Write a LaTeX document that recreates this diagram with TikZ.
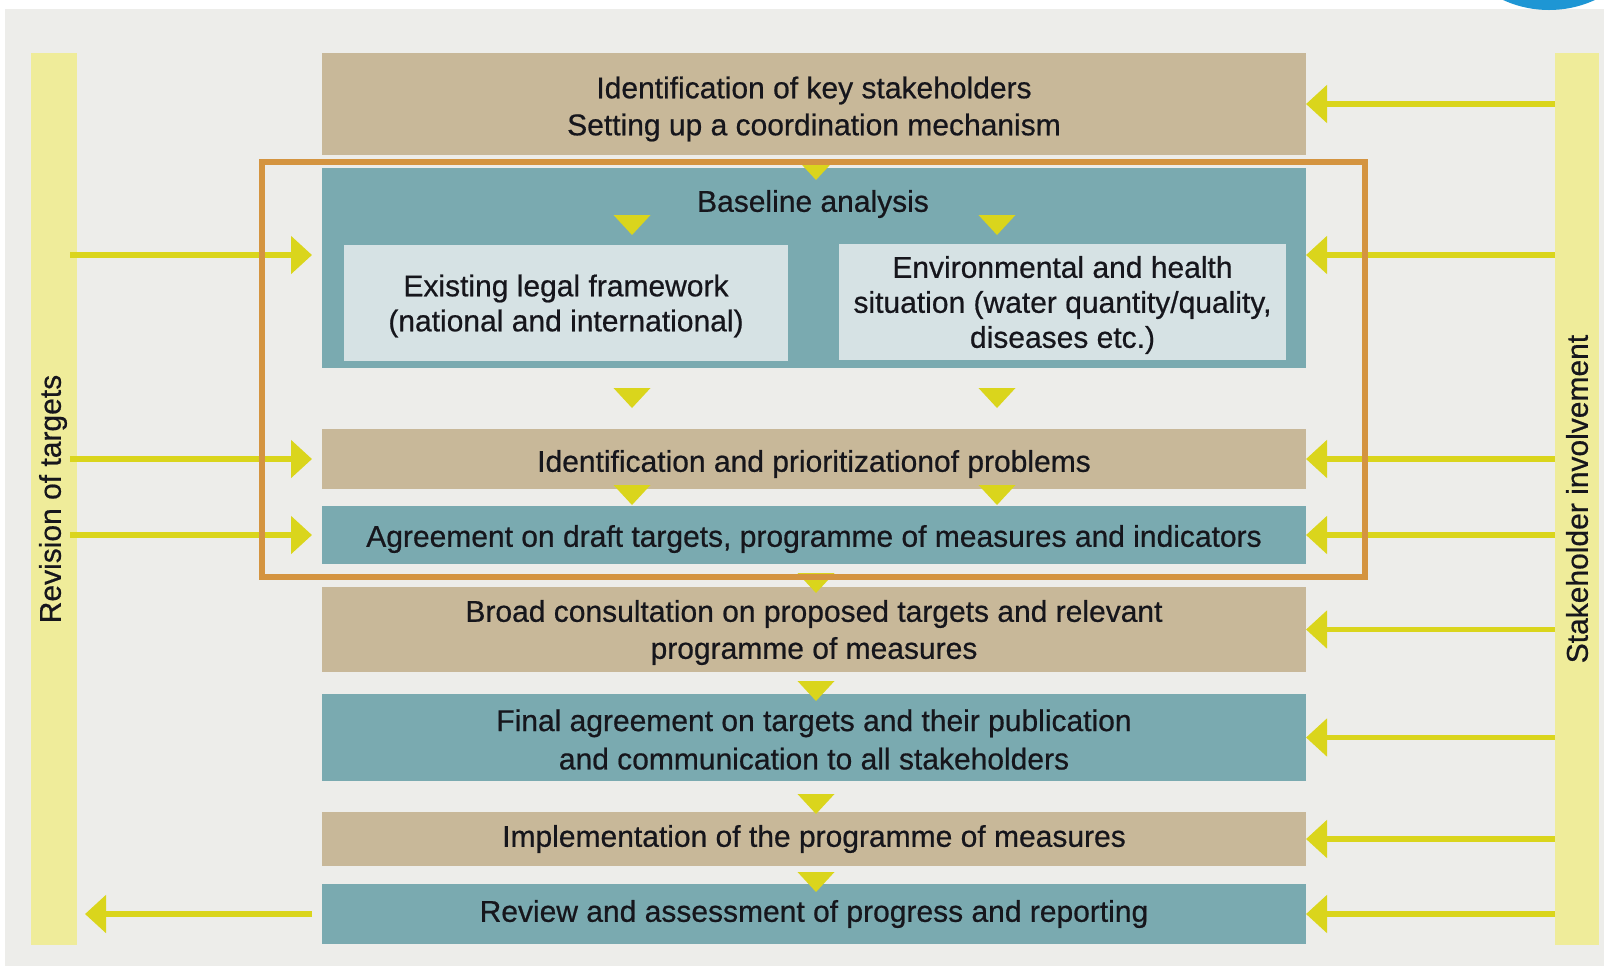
\documentclass[tikz,border=0pt]{standalone}
\usepackage{fontspec}
\setmainfont{Liberation Sans}
\newfontfamily\boxfont[FakeBold=0.6]{Liberation Sans}
\usetikzlibrary{arrows.meta,calc}
\definecolor{bgc}{HTML}{EDEDEA}
\definecolor{boxtan}{HTML}{C8B899}
\definecolor{boxteal}{HTML}{7AAAB0}
\definecolor{boxlight}{HTML}{D6E2E4}
\definecolor{baryellow}{HTML}{EFEC9A}
\definecolor{arrowyellow}{HTML}{DAD51C}
\definecolor{frameorange}{HTML}{D49440}
\definecolor{txt}{HTML}{16161C}
\definecolor{logoblue}{HTML}{1E96D4}
\newcommand\ytri[2]{\fill[tri] (#1-18.5,#2) -- (#1+18.5,#2) -- (#1,#2+20) -- cycle;}
\begin{document}
\begin{tikzpicture}[x=0.5pt,y=-0.5pt,
  box/.style={inner sep=0pt, outer sep=0pt, anchor=north west, minimum width=492pt},
  tanbox/.style={box, fill=boxtan},
  tealbox/.style={box, fill=boxteal},
  lightbox/.style={box, fill=boxlight},
  boxtext/.style={inner sep=0pt, align=center, text=txt, font=\boxfont\fontsize{15}{18.5}\selectfont},
  lighttext/.style={boxtext, font=\boxfont\fontsize{15}{17.5}\selectfont},
  bar/.style={inner sep=0pt, outer sep=0pt, anchor=north west, fill=baryellow,
    minimum width=23pt, minimum height=446pt},
  barlabel/.style={rotate=90, text=txt, font=\boxfont\fontsize{15}{18}\selectfont, inner sep=0pt},
  yarrow/.style={draw=arrowyellow, line width=2.8pt, -{Triangle[length=10.5pt,width=18.5pt]}},
  tri/.style={fill=arrowyellow},
  frame/.style={draw=frameorange, line width=2.6pt}]
\useasboundingbox (0,0) rectangle (1604,966);
\fill[white] (0,0) rectangle (1604,966);
\fill[bgc] (5,9) rectangle (1604,966);
\begin{scope}
  \clip (0,0) rectangle (1604,966);
  \fill[logoblue] (1549,-100) circle[radius=55pt];
\end{scope}

% side bars
\node[bar] (lbar) at (31,53) {};
\node[bar, minimum width=22pt] (rbar) at (1555,53) {};
\node[barlabel] (lbl) at ([xshift=-0.5pt]lbar.center) {Revision of targets};
\node[barlabel] (rbl) at (rbar.center) {Stakeholder involvement};

% boxes
\node[tanbox, minimum height=51pt] (box1) at (322,53) {};
\node[tealbox, minimum height=100pt] (base) at (322,168) {};
\node[lightbox, minimum width=222pt, minimum height=58pt] (legal) at (344,245) {};
\node[lightbox, minimum width=223.5pt, minimum height=58pt] (env) at (839,244) {};
\node[tanbox, minimum height=30pt] (prob) at (322,429) {};
\node[tealbox, minimum height=29pt] (agree) at (322,506) {};
\node[tanbox, minimum height=42.5pt] (broad) at (322,587) {};
\node[tealbox, minimum height=43.5pt] (final) at (322,694) {};
\node[tanbox, minimum height=27pt] (impl) at (322,812) {};
\node[tealbox, minimum height=30pt] (review) at (322,884) {};

% box texts
\node[boxtext] (box1t) at ([yshift=-2.5pt]box1.center)
  {Identification of key stakeholders\\Setting up a coordination mechanism};
\node[boxtext] (baset) at (813,204) {Baseline analysis};
\node[lighttext] (legalt) at ([yshift=-1.5pt]legal.center)
  {Existing legal framework\\(national and international)};
\node[lighttext] (envt) at ([yshift=-1.5pt]env.center)
  {Environmental and health\\situation (water quantity/quality,\\diseases etc.)};
\node[boxtext] (probt) at ([yshift=-2.5pt]prob.center)
  {Identification and prioritizationof problems};
\node[boxtext] (agreet) at ([yshift=-2pt]agree.center)
  {Agreement on draft targets, programme of measures and indicators};
\node[boxtext] (broadt) at ([yshift=-1.5pt]broad.center)
  {Broad consultation on proposed targets and relevant\\programme of measures};
\node[boxtext, font=\boxfont\fontsize{15}{19.2}\selectfont] (finalt) at ([yshift=-1pt]final.center)
  {Final agreement on targets and their publication\\and communication to all stakeholders};
\node[boxtext] (implt) at (impl.center)
  {Implementation of the programme of measures};
\node[boxtext] (reviewt) at (review.center)
  {Review and assessment of progress and reporting};

% small flow triangles
\ytri{816}{160}
\ytri{632}{215}
\ytri{997}{215}
\ytri{632}{388}
\ytri{997}{388}
\ytri{632}{485}
\ytri{997}{485}
\ytri{816}{573}
\ytri{816}{681}
\ytri{816}{794}
\ytri{816}{872}

% arrows
\coordinate (yb) at (0,255);
\draw[yarrow, shorten <=-3.5pt, shorten >=5pt] (lbar.east |- yb) -- (base.west |- yb);
\draw[yarrow, shorten <=-3.5pt, shorten >=5pt] (lbar.east |- prob.west) -- (prob.west);
\draw[yarrow, shorten <=-3.5pt, shorten >=5pt] (lbar.east |- agree.west) -- (agree.west);
\draw[yarrow, shorten <=5pt, shorten >=4pt] (review.west) -- (lbar.east |- review.west);

\draw[yarrow] (rbar.west |- box1.east) -- (box1.east);
\draw[yarrow] (rbar.west |- yb) -- (base.east |- yb);
\draw[yarrow] (rbar.west |- prob.east) -- (prob.east);
\draw[yarrow] (rbar.west |- agree.east) -- (agree.east);
\draw[yarrow] (rbar.west |- broad.east) -- (broad.east);
\draw[yarrow] (rbar.west |- final.east) -- (final.east);
\draw[yarrow] (rbar.west |- impl.east) -- (impl.east);
\draw[yarrow] (rbar.west |- review.east) -- (review.east);

% orange frame
\draw[frame] (262,162) rectangle (1365,577);
\end{tikzpicture}
\end{document}
